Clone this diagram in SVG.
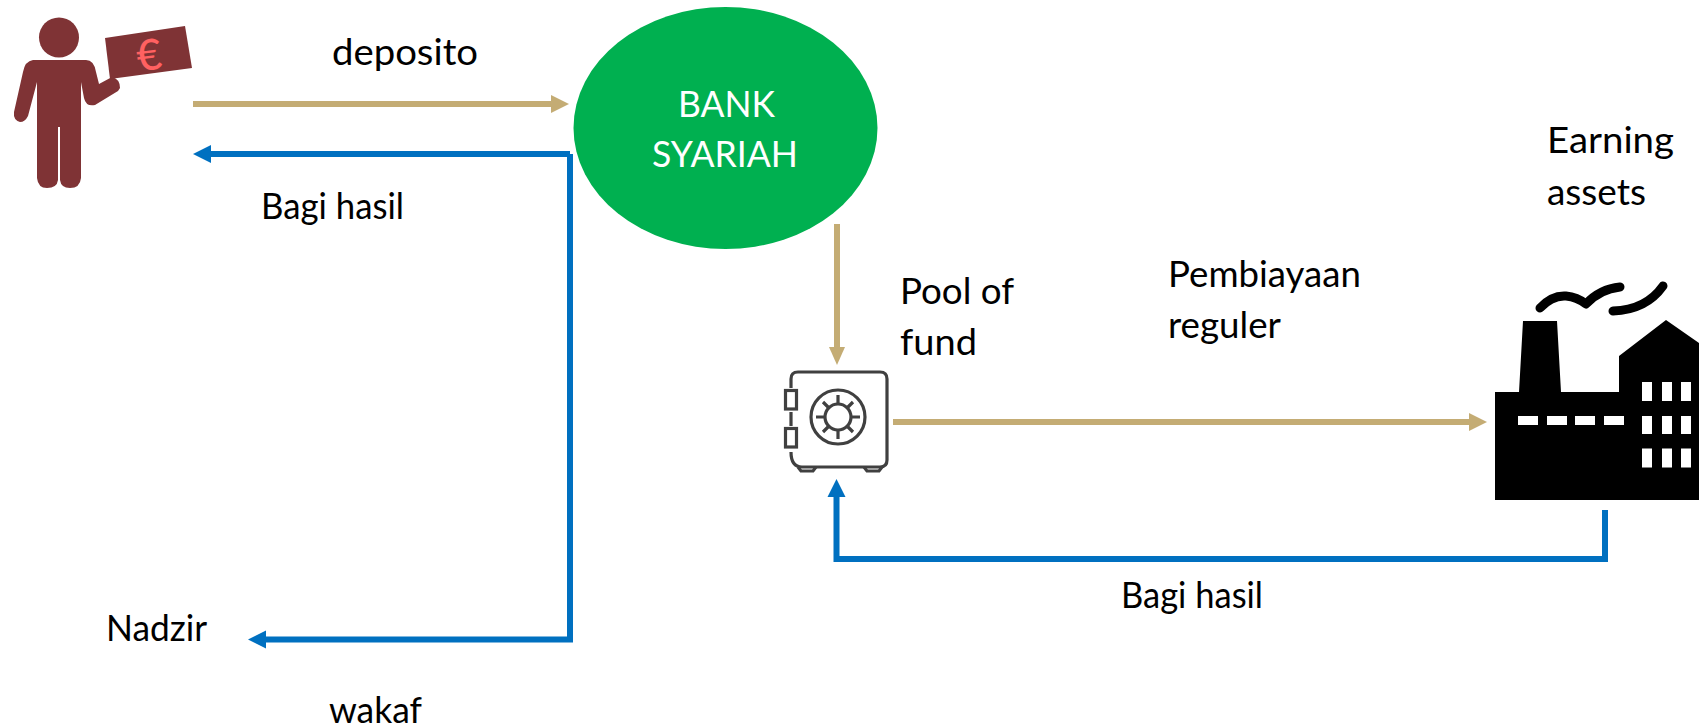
<svg xmlns="http://www.w3.org/2000/svg" width="1699" height="728" viewBox="0 0 1699 728">
<style>
text{font-family:"Lato","Carlito","Liberation Sans",sans-serif;font-size:36px;fill:#000}
.tan{fill:none;stroke:#c4ac74;stroke-width:6}
.blue{fill:none;stroke:#0070c0;stroke-width:6}
.ta{fill:#c4ac74}.ba{fill:#0070c0}
.safe{fill:none;stroke:#404040;stroke-width:3.200}
</style>
<rect width="1699" height="728" fill="#fff"/>
<g id="depositor">
<circle cx="59" cy="37.500" r="20" fill="#7f3335"/>
<path d="M33 60H86Q94 60 96 72L99 84L112 77Q120 79 120 88L118 91L95 105Q86 107 84 98L81 82V178Q80 188 70 188Q61 188 60 180V127H58V180Q57 188 47 188Q38 188 37 178V82L28 116Q25 122 20 122Q13 120 14 112L23 72Q25 61 33 60Z" fill="#7f3335"/>
<path d="M105 38L185 26L192 68L110 79Z" fill="#7f3335"/>
<text x="149" y="70" text-anchor="middle" transform="rotate(-7 149 54)" style="font-size:43px;font-weight:500;fill:#ff6161">€</text>
</g>
<g id="bank">
<ellipse cx="725.500" cy="128" rx="152" ry="121" fill="#00b050"/>
<text x="678" y="117" textLength="97" lengthAdjust="spacingAndGlyphs" style="fill:#fff">BANK</text>
<text x="652" y="167" textLength="146" lengthAdjust="spacingAndGlyphs" style="fill:#fff">SYARIAH</text>
</g>
<g id="safe">
<path class="safe" d="M791 388V379Q791 372 798 372H880Q887 372 887 379V460Q887 467 880 467H802Q791 467 791 452"/>
<rect class="safe" x="785.500" y="390.500" width="11" height="18.500"/><rect class="safe" x="785.500" y="428.500" width="11" height="18.500"/>
<path class="safe" d="M791 412V426M798 467L801 471H813L816 467M864 467L867 471H879L882 467"/>
<circle class="safe" cx="838" cy="417" r="27"/><circle class="safe" cx="838" cy="417" r="13"/>
<path class="safe" d="M838 395V404M838 430V439M816 417H825M851 417H860M823 402L829 408M847 426L853 432M853 402L847 408M829 426L823 432"/>
</g>
<g id="factory">
<path d="M1495 500V392H1519L1523 321H1557L1561 392H1619V356L1666 320L1699 343V500Z" fill="#000"/>
<path d="M1540 308Q1552 295 1566 296Q1577 297 1586 304Q1600 289 1620 287M1613 311Q1646 310 1663 286" fill="none" stroke="#000" stroke-width="9" stroke-linecap="round" stroke-linejoin="round"/>
<g fill="#fff"><rect x="1518" y="416" width="20" height="9"/><rect x="1547" y="416" width="20" height="9"/><rect x="1575" y="416" width="20" height="9"/><rect x="1604" y="416" width="20" height="9"/>
<rect x="1642" y="382" width="10" height="19"/><rect x="1662" y="382" width="10" height="19"/><rect x="1681" y="382" width="10" height="19"/>
<rect x="1642" y="416" width="10" height="18"/><rect x="1662" y="416" width="10" height="18"/><rect x="1681" y="416" width="10" height="18"/>
<rect x="1642" y="448.500" width="10" height="19"/><rect x="1662" y="448.500" width="10" height="19"/><rect x="1681" y="448.500" width="10" height="19"/></g>
</g>
<g id="connectors">
<path class="tan" d="M193 104H556"/><path class="ta" d="M569 104L551 95V113Z"/>
<path class="blue" d="M570 154H208"/><path class="ba" d="M193 154L211 145V163Z"/>
<path class="blue" d="M570 154V639.500H262"/><path class="ba" d="M248 639.500L266 630.500V648.500Z"/>
<path class="tan" d="M837 224V351"/><path class="ta" d="M837 365L829 347H845Z"/>
<path class="tan" d="M893 422H1473"/><path class="ta" d="M1487 422L1469 413V431Z"/>
<path class="blue" d="M1605 510V559H836.500V494"/><path class="ba" d="M836.500 479L827.500 497H845.500Z"/>
</g>
<g id="labels">
<text x="332" y="65" textLength="146" lengthAdjust="spacingAndGlyphs">deposito</text>
<text x="261" y="219" textLength="143" lengthAdjust="spacingAndGlyphs">Bagi hasil</text>
<text x="106" y="641" textLength="101" lengthAdjust="spacingAndGlyphs">Nadzir</text>
<text x="329" y="723" textLength="93" lengthAdjust="spacingAndGlyphs">wakaf</text>
<text x="900" y="304" textLength="114" lengthAdjust="spacingAndGlyphs">Pool of</text>
<text x="900" y="355" textLength="77" lengthAdjust="spacingAndGlyphs">fund</text>
<text x="1168" y="287" textLength="193" lengthAdjust="spacingAndGlyphs">Pembiayaan</text>
<text x="1168" y="338" textLength="113" lengthAdjust="spacingAndGlyphs">reguler</text>
<text x="1547" y="153" textLength="127" lengthAdjust="spacingAndGlyphs">Earning</text>
<text x="1547" y="205" textLength="99" lengthAdjust="spacingAndGlyphs">assets</text>
<text x="1121" y="608" textLength="142" lengthAdjust="spacingAndGlyphs">Bagi hasil</text>
</g>
</svg>
